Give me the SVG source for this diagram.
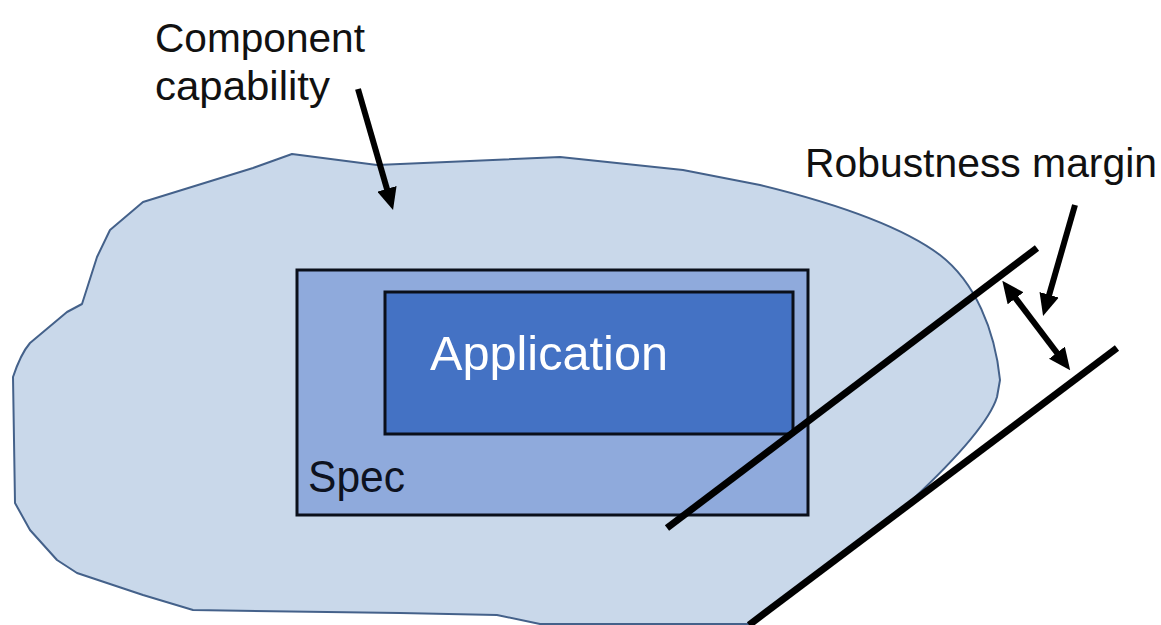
<svg xmlns="http://www.w3.org/2000/svg" width="1161" height="625" viewBox="0 0 1161 625">
  <style>
    .lbl { font-family: "Liberation Sans", Arial, sans-serif; fill: #111111; }
    .bar { stroke: #000000; stroke-width: 7; fill: none; }
    .arr { stroke: #000000; stroke-width: 6; fill: none; }
    .box { stroke: #0a0f1a; stroke-width: 3; }
  </style>
  <defs>
    <marker id="head" markerUnits="userSpaceOnUse" markerWidth="22" markerHeight="20" viewBox="0 0 22 20" refX="6" refY="10" orient="auto-start-reverse">
      <path d="M0,0 L22,10 L0,20 Z" fill="#000000"/>
    </marker>
  </defs>
  <rect width="1161" height="625" fill="#ffffff"/>

  <g id="component-capability">
    <path d="M292,154 L377,165 L470,161 L560,157 L683,170 L760,185 C830,202 900,225 940,255 C975,282 995,330 1000,380 L997,397 C990,420 960,455 912,500 L750,624 L540,624 L497,615 L400,613 L193,610 L143,595 L77,573 L57,560 L30,530 L15,503 L13,377 C18,362 24,350 30,343 L67,312 L82,304 L97,257 L110,230 L143,202 L253,168 Z" fill="#C9D8EA" stroke="#44618A" stroke-width="2" stroke-linejoin="round"/>
  </g>

  <g id="spec">
    <rect class="box" x="297" y="270" width="511" height="245" fill="#8FAADC"/>
    <text class="lbl" x="308" y="492" font-size="45" textLength="97" lengthAdjust="spacingAndGlyphs" style="fill:#0d1220">Spec</text>
  </g>

  <g id="application">
    <rect class="box" x="385" y="292" width="408" height="142" fill="#4472C4"/>
    <text class="lbl" x="430" y="370" font-size="49" textLength="238" lengthAdjust="spacingAndGlyphs" style="fill:#ffffff">Application</text>
  </g>

  <g id="labels">
    <text class="lbl" x="155" y="52" font-size="40.5" textLength="210" lengthAdjust="spacingAndGlyphs">Component</text>
    <text class="lbl" x="155" y="100" font-size="40.5" textLength="175" lengthAdjust="spacingAndGlyphs">capability</text>
    <text class="lbl" x="805" y="177" font-size="40.5" textLength="352" lengthAdjust="spacingAndGlyphs">Robustness margin</text>
  </g>

  <g id="connectors">
    <line class="bar" x1="1037" y1="248" x2="667" y2="528"/>
    <line class="bar" x1="1117" y1="348" x2="749" y2="625"/>
    <path class="arr" d="M358,89 L388.6,194.6" marker-end="url(#head)"/>
    <path class="arr" d="M1075,205 L1047.5,300.6" marker-end="url(#head)"/>
    <path class="arr" d="M1012,293.5 L1060.5,357.5" marker-start="url(#head)" marker-end="url(#head)"/>
  </g>
</svg>
